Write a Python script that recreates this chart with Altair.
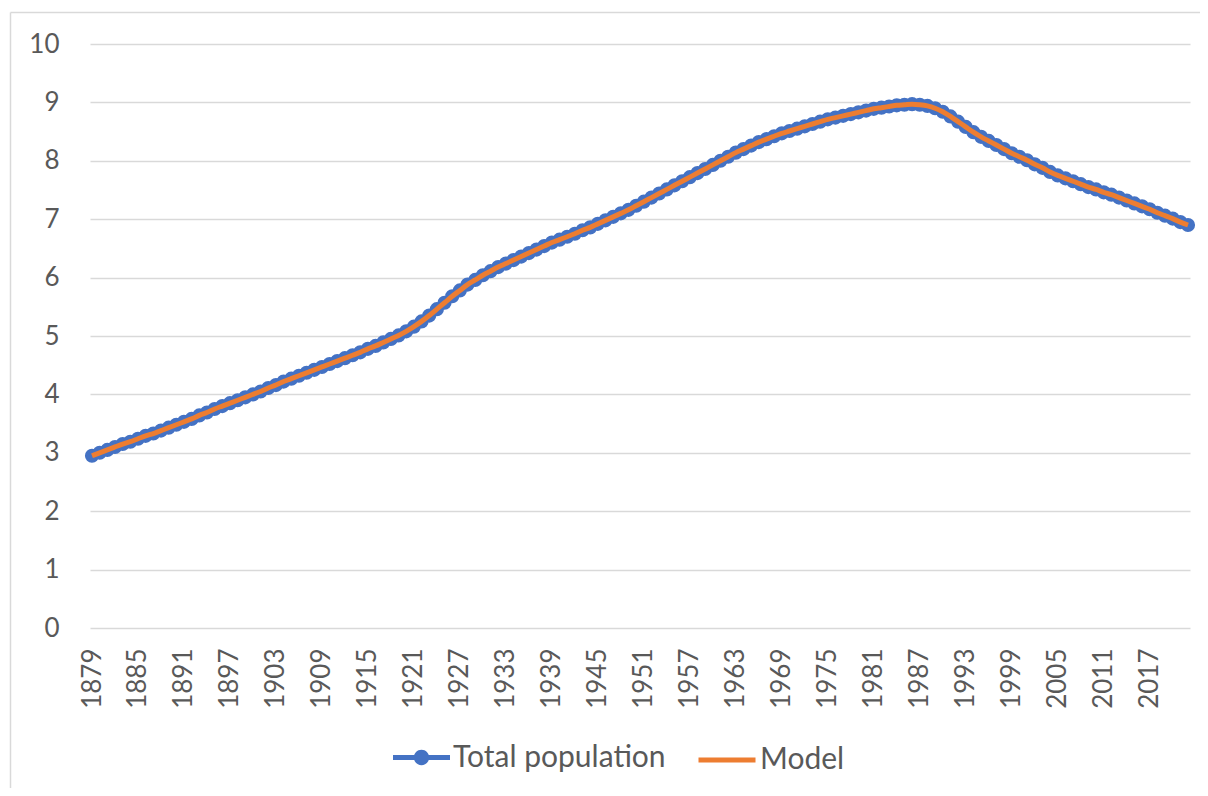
import altair as alt
import pandas as pd

years = list(range(1879, 2023))
total_population = [
    2.95, 3.00, 3.05, 3.10, 3.15, 3.19, 3.24, 3.29, 3.33, 3.38,
    3.43, 3.48, 3.53, 3.58, 3.64, 3.69, 3.75, 3.80, 3.85, 3.90,
    3.95, 4.00, 4.05, 4.11, 4.16, 4.22, 4.27, 4.32, 4.37, 4.42,
    4.47, 4.52, 4.57, 4.62, 4.67, 4.72, 4.78, 4.83, 4.89, 4.95,
    5.01, 5.08, 5.16, 5.25, 5.35, 5.46, 5.57, 5.68, 5.78, 5.88,
    5.96, 6.04, 6.11, 6.18, 6.24, 6.30, 6.36, 6.42, 6.48, 6.54,
    6.60, 6.65, 6.70, 6.75, 6.81, 6.86, 6.92, 6.98, 7.04, 7.10,
    7.16, 7.23, 7.30, 7.37, 7.44, 7.51, 7.58, 7.65, 7.72, 7.79,
    7.86, 7.93, 8.00, 8.07, 8.14, 8.20, 8.26, 8.32, 8.37, 8.42,
    8.47, 8.51, 8.55, 8.59, 8.63, 8.67, 8.71, 8.74, 8.77, 8.80,
    8.83, 8.86, 8.89, 8.91, 8.93, 8.95, 8.96, 8.97, 8.96, 8.94,
    8.90, 8.84, 8.76, 8.67, 8.58, 8.49, 8.41, 8.34, 8.27, 8.20,
    8.13, 8.07, 8.01, 7.94, 7.88, 7.81, 7.75, 7.70, 7.65, 7.60,
    7.55, 7.51, 7.46, 7.42, 7.37, 7.32, 7.27, 7.22, 7.17, 7.11,
    7.06, 7.01, 6.95, 6.90,
]
# the model curve is visually indistinguishable from the data
model_values = list(total_population)

x_tick_labels = list(range(1879, 2018, 6))
y_tick_labels = list(range(0, 11))
series_names = ["Total population", "Model"]

BLUE = "#4472C4"
ORANGE = "#ED7D31"
GRID = "#D9D9D9"
TEXT = "#595959"
FONT = "Lato"

pop_df = pd.DataFrame({"year": years, "value": total_population, "series": series_names[0]})
mod_df = pd.DataFrame({"year": years, "value": model_values, "series": series_names[1]})

x_enc = alt.X(
    "year:Q",
    scale=alt.Scale(domain=[years[0], years[-1]], nice=False, zero=False, padding=2),
    axis=alt.Axis(
        values=x_tick_labels, format="d", labelAngle=270, labelAlign="right",
        labelBaseline="middle", labelPadding=20, grid=False, domain=False,
        ticks=False, labelFont=FONT, labelFontSize=26, labelColor=TEXT,
        labelOverlap=False, title=None,
    ),
)
y_enc = alt.Y(
    "value:Q",
    scale=alt.Scale(domain=[0, 10], nice=False, zero=True),
    axis=alt.Axis(
        values=y_tick_labels, grid=True, gridColor=GRID, gridWidth=1.5,
        domain=False, ticks=False, labelFont=FONT, labelFontSize=26,
        labelColor=TEXT, labelPadding=31, title=None,
    ),
)

one = pd.DataFrame({"a": [0]})
frame_top = alt.Chart(one).mark_rule(stroke=GRID, strokeWidth=1.5).encode(
    x=alt.value(-79.5), x2=alt.value(1110), y=alt.value(-31.5)
)
frame_left = alt.Chart(one).mark_rule(stroke=GRID, strokeWidth=1.5).encode(
    x=alt.value(-79.5), y=alt.value(-31.5), y2=alt.value(744)
)

blue_line = alt.Chart(pop_df).mark_line(
    color=BLUE, strokeWidth=6, interpolate="monotone"
).encode(x=x_enc, y=y_enc)

legend_symbol = (
    "M-1,-0.09L-0.2,-0.09L-0.2,0.09L-1,0.09Z "
    "M0.2,-0.09L1,-0.09L1,0.09L0.2,0.09Z "
    "M-0.27,0A0.27,0.27 0 1,1 0.27,0A0.27,0.27 0 1,1 -0.27,0Z"
)

blue_pts = alt.Chart(pop_df).mark_circle(size=200, opacity=1).encode(
    x=x_enc,
    y=y_enc,
    fill=alt.Fill(
        "series:N",
        scale=alt.Scale(domain=[series_names[0]], range=[BLUE]),
        legend=alt.Legend(
            title=None, orient="none", legendX=303, legendY=685, padding=0,
            symbolType=legend_symbol, symbolSize=3249, symbolStrokeWidth=0,
            symbolOpacity=1, labelLimit=0,
            labelFont=FONT, labelFontSize=30, labelColor=TEXT, labelOffset=3,
        ),
    ),
)

orange_line = alt.Chart(mod_df).mark_line(strokeWidth=5, interpolate="monotone").encode(
    x=x_enc,
    y=y_enc,
    stroke=alt.Stroke(
        "series:N",
        scale=alt.Scale(domain=[series_names[1]], range=[ORANGE]),
        legend=alt.Legend(
            title=None, orient="none", legendX=606, legendY=685, padding=0,
            symbolType="stroke", symbolSize=3249, symbolStrokeWidth=5,
            labelLimit=0,
            labelFont=FONT, labelFontSize=30, labelColor=TEXT, labelOffset=2,
        ),
    ),
)

chart = alt.layer(frame_top, frame_left, blue_line, blue_pts, orange_line).resolve_scale(
    fill="independent", stroke="independent"
).properties(
    width=1100,
    height=584,
    autosize=alt.AutoSizeParams(type="none"),
    padding={"left": 82, "top": 36, "right": 10, "bottom": 160},
    background="white",
).configure_view(stroke=None)

chart.save("out.html", embed_options={"renderer": "svg", "actions": False})
